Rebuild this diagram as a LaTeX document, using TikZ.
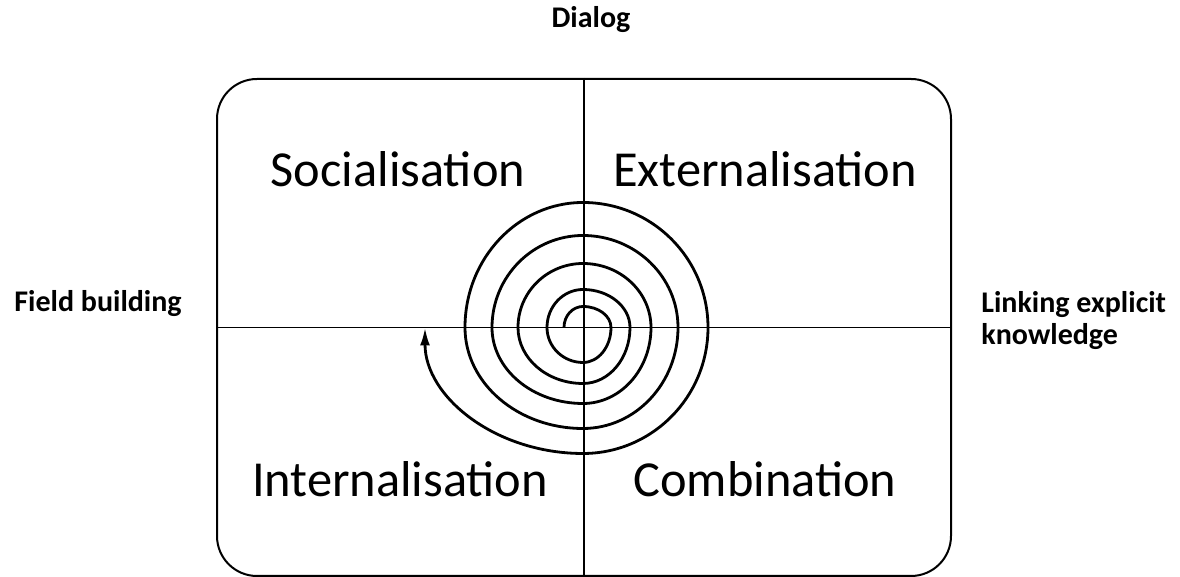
\documentclass[tikz,border=0pt]{standalone}
\usepackage{fontspec}
\setmainfont{Carlito}
\usetikzlibrary{arrows.meta}
\tikzset{
    quadtext/.style={font=\fontsize{25.2}{30}\selectfont, anchor=base, inner sep=0pt},
    axistext/.style={font=\bfseries\fontsize{15}{16}\selectfont, inner sep=0pt, align=left},
    crossline/.style={line width=0.8pt},
    spiralpath/.style={line width=1.4pt, -{Latex[length=9pt, width=5pt]}}
}

\begin{document}
\begin{tikzpicture}[x=0.5pt, y=0.5pt]
\useasboundingbox (0,0) rectangle (1180,577);
% frame and the cross
\node[draw, line width=1pt, rounded corners=20pt, minimum width=367pt,
      minimum height=248.5pt, inner sep=0pt] (frame) at (584,249.5) {};
\draw[crossline] (frame.north) -- (frame.south);
\draw[crossline] (frame.west) -- (frame.east);
% axis labels
\node[axistext, anchor=base] (dialog) at (591,549) {Dialog};
\node[axistext, anchor=base] (field) at (98,265) {Field building};
\node[axistext, anchor=base west] (linking) at (981,232) {Linking explicit\\knowledge};
% quadrants
\node[quadtext] (social) at (398,390) {Socialisation};
\node[quadtext] (external) at (765,390) {Externalisation};
\node[quadtext] (internal) at (400,80) {Internalisation};
\node[quadtext] (combine) at (765,80) {Combination};
% spiral, quarter by quarter
\coordinate (spiralstart) at (564,249.5);
\draw[spiralpath] (spiralstart)
  \foreach \a/\rx/\ry in {180/19/21, 90/28/21, 0/28/35, -90/36/35,
                          180/36/38, 90/47/38, 0/47/56, -90/65/56,
                          180/65/64, 90/68/64, 0/68/76, -90/91/76,
                          180/91/92, 90/95/92, 0/95/101, -90/118/101,
                          180/118/125, 90/125/125, 0/125/126, -90/158/126}
  {arc[start angle=\a, delta angle=-90, x radius=\rx, y radius=\ry]};
\end{tikzpicture}
\end{document}
